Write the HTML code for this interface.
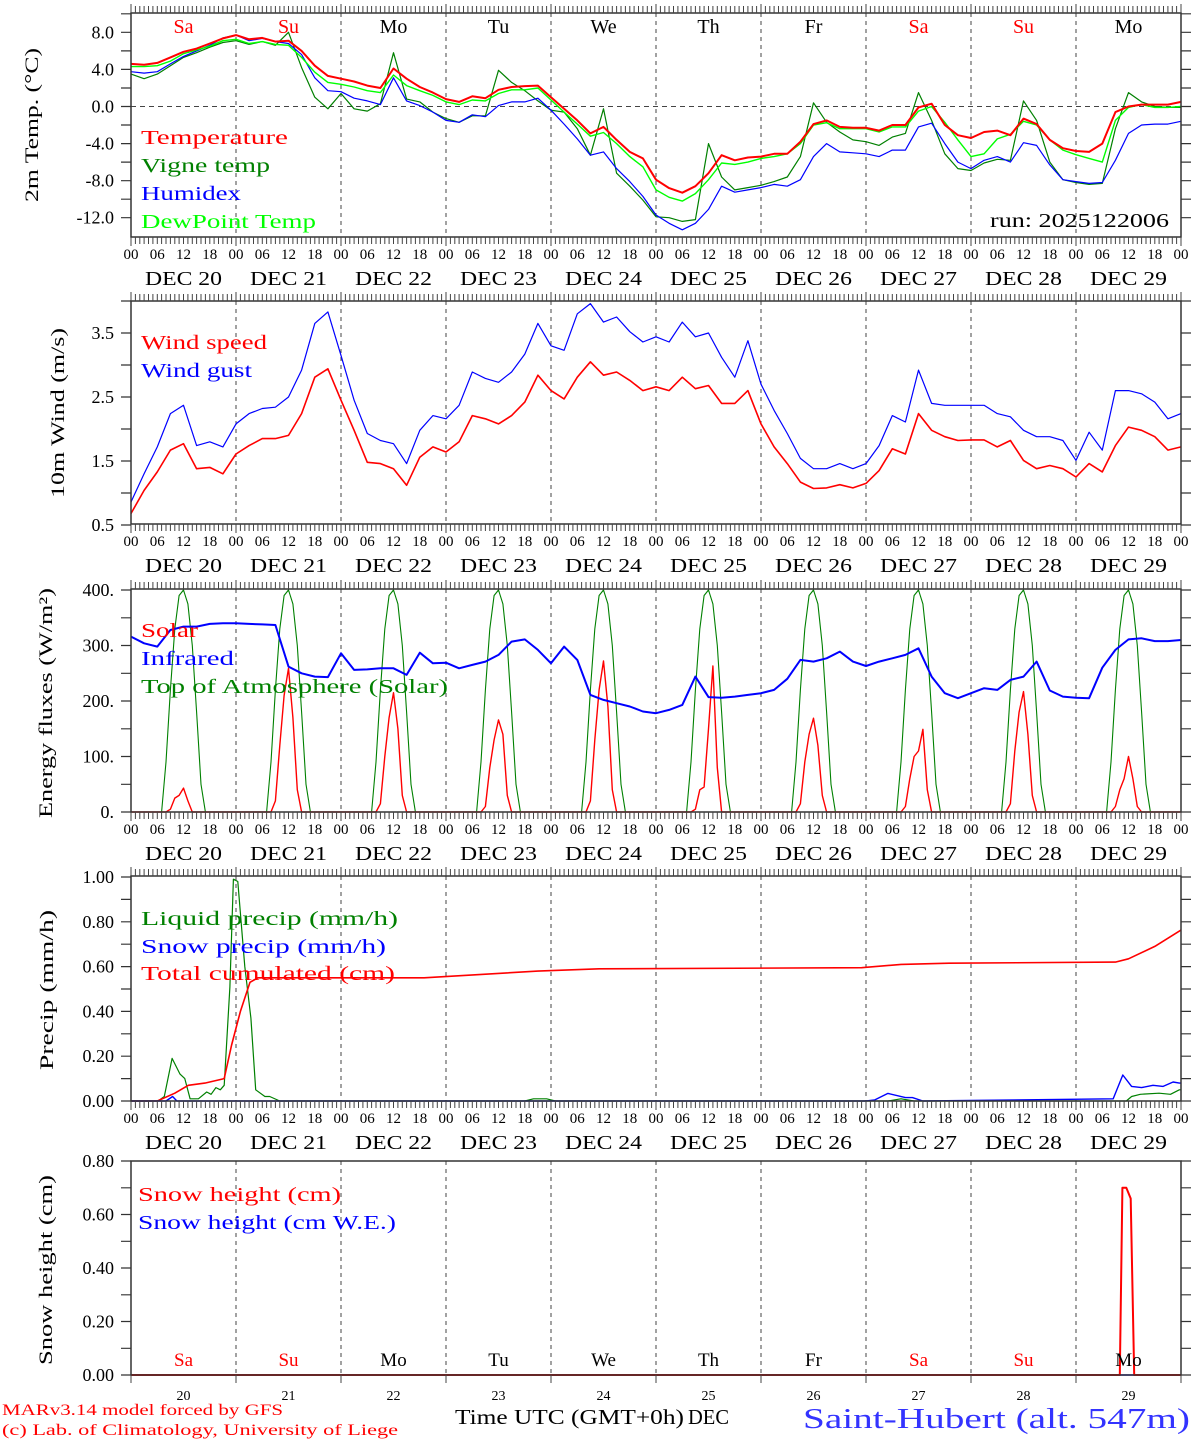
<!DOCTYPE html>
<html><head><meta charset="utf-8"><title>Saint-Hubert MAR forecast</title>
<style>
html,body{margin:0;padding:0;background:#fff;}
svg{display:block;font-family:"Liberation Serif",serif;}
</style></head>
<body>
<svg id="chart" width="1194" height="1440" viewBox="0 0 1194 1440" xmlns="http://www.w3.org/2000/svg">
<rect x="0" y="0" width="1194" height="1440" fill="#fff"/>
<g id="grid"></g>
<g id="series"></g>
<g id="axes"></g>
<g id="labels">
  <text x="0" y="0" transform="translate(38,125) rotate(-90)" text-anchor="middle" font-size="19" textLength="154" lengthAdjust="spacingAndGlyphs">2m Temp. (°C)</text>
  <text x="0" y="0" transform="translate(64,413) rotate(-90)" text-anchor="middle" font-size="19" textLength="170" lengthAdjust="spacingAndGlyphs">10m Wind (m/s)</text>
  <text x="0" y="0" transform="translate(52,703) rotate(-90)" text-anchor="middle" font-size="19" textLength="230" lengthAdjust="spacingAndGlyphs">Energy fluxes (W/m²)</text>
  <text x="0" y="0" transform="translate(53,990) rotate(-90)" text-anchor="middle" font-size="19" textLength="160" lengthAdjust="spacingAndGlyphs">Precip (mm/h)</text>
  <text x="0" y="0" transform="translate(52,1270) rotate(-90)" text-anchor="middle" font-size="19" textLength="190" lengthAdjust="spacingAndGlyphs">Snow height (cm)</text>

  <text x="141" y="144" font-size="20" fill="#ff0000" textLength="147" lengthAdjust="spacingAndGlyphs">Temperature</text>
  <text x="141" y="172" font-size="20" fill="#008000" textLength="129" lengthAdjust="spacingAndGlyphs">Vigne temp</text>
  <text x="141" y="200" font-size="20" fill="#0000ff" textLength="100" lengthAdjust="spacingAndGlyphs">Humidex</text>
  <text x="141" y="228" font-size="20" fill="#00ff00" textLength="175" lengthAdjust="spacingAndGlyphs">DewPoint Temp</text>
  <text x="990" y="227" font-size="20" fill="#000" textLength="179" lengthAdjust="spacingAndGlyphs">run: 2025122006</text>

  <text x="141" y="349" font-size="20" fill="#ff0000" textLength="126" lengthAdjust="spacingAndGlyphs">Wind speed</text>
  <text x="141" y="377" font-size="20" fill="#0000ff" textLength="111" lengthAdjust="spacingAndGlyphs">Wind gust</text>

  <text x="141" y="637" font-size="20" fill="#ff0000" textLength="57" lengthAdjust="spacingAndGlyphs">Solar</text>
  <text x="141" y="665" font-size="20" fill="#0000ff" textLength="93" lengthAdjust="spacingAndGlyphs">Infrared</text>
  <text x="141" y="693" font-size="20" fill="#008000" textLength="307" lengthAdjust="spacingAndGlyphs">Top of Atmosphere (Solar)</text>

  <text x="141" y="925" font-size="20" fill="#008000" textLength="257" lengthAdjust="spacingAndGlyphs">Liquid precip (mm/h)</text>
  <text x="141" y="953" font-size="20" fill="#0000ff" textLength="245" lengthAdjust="spacingAndGlyphs">Snow precip (mm/h)</text>
  <text x="141" y="980" font-size="20" fill="#ff0000" textLength="254" lengthAdjust="spacingAndGlyphs">Total cumulated (cm)</text>

  <text x="138" y="1201" font-size="20" fill="#ff0000" textLength="203" lengthAdjust="spacingAndGlyphs">Snow height (cm)</text>
  <text x="138" y="1229" font-size="20" fill="#0000ff" textLength="258" lengthAdjust="spacingAndGlyphs">Snow height (cm W.E.)</text>

  <text x="2" y="1415" font-size="16" fill="#ff0000" textLength="281" lengthAdjust="spacingAndGlyphs">MARv3.14 model forced by GFS</text>
  <text x="2" y="1435" font-size="16" fill="#ff0000" textLength="396" lengthAdjust="spacingAndGlyphs">(c) Lab. of Climatology, University of Liege</text>
  <text x="455" y="1424" font-size="21" fill="#000" textLength="229" lengthAdjust="spacingAndGlyphs">Time UTC (GMT+0h)</text>
  <text x="688" y="1424" font-size="21" fill="#000" textLength="41" lengthAdjust="spacingAndGlyphs">DEC</text>
  <text x="803" y="1428" font-size="29" fill="#3333ff" textLength="387" lengthAdjust="spacingAndGlyphs">Saint-Hubert (alt. 547m)</text>
</g>
</svg>
<script>
// ---------- DATA (3-hourly from 20 Dec 00 UTC, 81 points) ----------
const temperature = [4.6,4.5,4.7,5.3,5.9,6.25,6.8,7.35,7.7,7.25,7.4,7.0,7.1,6.0,4.4,3.3,3.0,2.7,2.25,2.0,4.1,3.0,2.1,1.5,0.8,0.5,1.1,0.9,1.8,2.1,2.2,2.25,1.0,-0.25,-1.5,-2.9,-2.2,-3.6,-4.9,-5.6,-7.9,
 -8.8,-9.3,-8.6,-7.2,-5.25,-5.8,-5.5,-5.4,-5.1,-5.1,-3.8,-1.9,-1.5,-2.2,-2.3,-2.3,-2.6,-2.0,-2.0,-0.1,0.3,-2.0,-3.1,-3.4,-2.75,-2.6,-3.1,-1.3,-1.9,-3.6,-4.5,-4.8,-4.9,-4.0,-0.6,0.0,0.2,0.2,0.2,0.5];
const dewpoint = [4.3,4.3,4.4,4.9,5.7,6.1,6.5,7.1,7.25,6.8,7.0,6.7,6.6,5.3,3.7,2.6,2.4,2.1,1.7,1.5,3.4,2.25,1.7,1.2,0.5,0.2,0.7,0.6,1.4,1.8,1.8,2.0,0.7,-0.6,-1.9,-3.2,-2.8,-4.0,-5.4,-6.5,-9.0,
 -9.8,-10.2,-9.4,-7.9,-6.1,-6.25,-6.0,-5.6,-5.4,-5.1,-4.0,-2.0,-1.75,-2.4,-2.4,-2.4,-2.75,-2.2,-2.2,-0.5,0.0,-1.7,-3.6,-5.4,-5.1,-3.5,-3.0,-1.6,-2.0,-3.6,-4.7,-5.2,-5.6,-6.0,-1.5,-0.1,0.2,-0.1,-0.1,0.0];
const humidex = [3.75,3.6,3.75,4.6,5.4,6.0,6.6,7.4,7.7,7.1,7.35,7.0,6.8,5.6,3.1,1.7,1.6,0.9,0.6,0.2,3.1,0.6,0.1,-0.6,-1.5,-1.7,-0.9,-1.1,0.1,0.5,0.5,0.9,-0.4,-1.9,-3.5,-5.25,-4.9,-6.7,-8.1,-9.7,-11.7,
 -12.6,-13.3,-12.6,-11.1,-8.6,-9.25,-9.0,-8.75,-8.4,-8.6,-7.9,-5.4,-4.0,-4.9,-5.0,-5.1,-5.4,-4.7,-4.7,-2.2,-1.8,-4.0,-6.0,-6.7,-5.8,-5.4,-6.0,-3.9,-4.2,-6.3,-7.9,-8.1,-8.3,-8.2,-5.8,-2.9,-2.0,-1.9,-1.9,-1.6];
const vigne = [3.5,3.0,3.5,4.4,5.3,5.8,6.4,6.9,7.1,6.7,7.0,6.6,8.0,4.2,1.0,-0.25,1.4,-0.25,-0.5,0.3,5.8,0.8,0.5,-0.6,-1.3,-1.7,-1.0,-1.0,3.9,2.6,1.7,0.6,-0.4,-0.6,-2.4,-5.25,-0.25,-7.2,-8.6,-10.1,-11.9,
 -12.0,-12.4,-12.2,-4.0,-7.6,-9.0,-8.75,-8.5,-8.1,-7.6,-5.4,0.4,-1.7,-2.75,-3.6,-3.8,-4.2,-3.3,-2.9,1.5,-1.5,-5.1,-6.7,-6.9,-6.1,-5.7,-5.8,0.6,-1.5,-6.0,-7.9,-8.2,-8.4,-8.3,-2.4,1.5,0.5,0.0,-0.1,-0.1];
const windSpeed = [0.68,1.04,1.33,1.67,1.77,1.38,1.4,1.3,1.61,1.74,1.85,1.85,1.9,2.24,2.81,2.94,2.45,1.98,1.48,1.46,1.38,1.12,1.56,1.72,1.64,1.8,2.21,2.16,2.08,2.21,2.42,2.84,2.6,2.47,2.81,3.05,2.84,2.89,2.76,2.6,2.66,2.6,2.81,2.63,2.68,2.4,2.4,2.6,2.08,1.72,1.46,1.17,1.07,1.08,1.13,1.08,1.15,1.35,1.69,1.61,2.24,1.98,1.88,1.82,1.83,1.83,1.72,1.82,1.51,1.38,1.43,1.38,1.25,1.46,1.33,1.74,2.03,1.98,1.88,1.67,1.72];
const windGust = [0.86,1.3,1.72,2.24,2.37,1.74,1.8,1.72,2.08,2.24,2.32,2.34,2.5,2.92,3.65,3.83,3.15,2.45,1.93,1.82,1.77,1.46,1.98,2.21,2.16,2.37,2.89,2.79,2.73,2.89,3.17,3.65,3.3,3.23,3.8,3.96,3.67,3.75,3.52,3.36,3.44,3.36,3.67,3.44,3.5,3.12,2.81,3.38,2.7,2.29,1.93,1.54,1.38,1.38,1.46,1.38,1.46,1.74,2.21,2.11,2.92,2.4,2.37,2.37,2.37,2.37,2.24,2.19,1.98,1.88,1.88,1.82,1.51,1.95,1.67,2.6,2.6,2.55,2.42,2.16,2.24];
const infrared = [316,304,298,328,334,334,339,340,340,339,338,337,262,250,244,243,286,256,257,259,259,247,287,268,269,259,265,271,283,307,311,292,268,298,274,211,202,196,190,181,178,184,193,244,207,206,208,211,214,220,240,274,271,277,289,271,263,271,277,283,295,244,214,205,214,223,220,238,244,271,219,208,206,205,260,292,311,313,308,308,310];
// solar: hourly values at hours 8..16 of each day
const solarHours = [8,9,10,11,12,13,14,15,16];
const solarDay = [
 [0,5,25,30,43,20,0,0,0],
 [0,20,120,210,259,170,40,0,0],
 [0,15,100,170,215,150,30,0,0],
 [0,10,80,130,166,140,30,0,0],
 [0,20,130,220,272,190,40,0,0],
 [0,5,40,45,150,263,80,0,0],
 [0,15,90,140,169,120,30,0,0],
 [0,10,60,100,110,149,40,0,0],
 [0,15,110,180,217,140,30,0,0],
 [0,10,40,60,100,60,10,0,0]];
// top of atmosphere solar: hourly values at hours 7..17 (same each day)
const toaHours = [7,8,9,10,11,12,13,14,15,16,17];
const toaValues = [0,90,220,330,390,400,375,300,180,50,0];
// precipitation: [hour, value] pairs
const liquidPrecip = [[0,0],[6.2,0],[7.6,0.02],[9.4,0.19],[11.2,0.12],[12.3,0.1],[13.5,0.01],[15.4,0.01],[17.3,0.04],[18.3,0.03],[19.4,0.06],[20.4,0.05],[21.3,0.07],[22.6,0.51],[23.4,0.99],[24.4,0.98],[26,0.6],[27.4,0.37],[28.5,0.05],[30.6,0.02],[31.7,0.02],[34,0],[90,0],[92,0.01],[95,0.01],[97,0],[173,0],[176,0.01],[179,0],[227.5,0],[228.7,0.02],[230.7,0.03],[235,0.035],[237.6,0.03],[239.6,0.05],[240,0.05]];
const snowPrecip = [[0,0],[8,0],[9.5,0.02],[10.5,0],[168,0],[170,0.005],[173,0.034],[177,0.015],[178.6,0.015],[181,0],[224.5,0.01],[226.7,0.116],[228.7,0.065],[231,0.06],[233.6,0.07],[235.9,0.065],[238.2,0.085],[239.6,0.08],[240,0.08]];
const totalCumulated = [[0,0],[6,0],[10,0.035],[13.1,0.07],[16.9,0.08],[21.3,0.1],[23,0.25],[25,0.4],[27.2,0.53],[29,0.55],[67,0.55],[93,0.58],[107,0.59],[167,0.595],[176,0.61],[187,0.615],[225,0.62],[228,0.635],[234,0.69],[240,0.763]];
const snowHeight = [[0,0],[226,0],[226.6,0.70],[227.5,0.70],[228.5,0.66],[229.3,0],[240,0]];
const snowHeightWE = [[0,0],[240,0]];
// labels
const hourLabels = ['00','06','12','18'];
const dayNums = ['20','21','22','23','24','25','26','27','28','29'];
const dayNames = ['Sa','Su','Mo','Tu','We','Th','Fr','Sa','Su','Mo'];
const tempTicks = ['8.0','4.0','0.0','-4.0','-8.0','-12.0'];
const tempTickVals = [8,4,0,-4,-8,-12];
const windTickVals = [3.5,2.5,1.5,0.5];
const windTicks = ['3.5','2.5','1.5','0.5'];
const fluxTickVals = [400,300,200,100,0];
const fluxTicks = ['400.','300.','200.','100.','0.'];
const precipTickVals = [1,0.8,0.6,0.4,0.2,0];
const precipTicks = ['1.00','0.80','0.60','0.40','0.20','0.00'];
const snowTickVals = [0.8,0.6,0.4,0.2,0];
const snowTicks = ['0.80','0.60','0.40','0.20','0.00'];

// ---------- SCALES ----------
const X0 = 131, X1 = 1181, HOURS = 240;
function xs(h){ return X0 + h*(X1-X0)/HOURS; }
const P1 = {top:13, bottom:237, y:v=>106.5 - v*9.27};
const P2 = {top:301, bottom:524, y:v=>333 - (v-3.5)*64};
const P3 = {top:589, bottom:812, y:v=>812 - v*0.555};
const P4 = {top:876, bottom:1101, y:v=>1101 - v*224};
const P5 = {top:1161, bottom:1375, y:v=>1375 - v*267.5};

const NS = 'http://www.w3.org/2000/svg';
const gGrid = document.getElementById('grid');
const gSeries = document.getElementById('series');
const gAxes = document.getElementById('axes');
const gLabels = document.getElementById('labels');
function mk(tag, attrs, parent){ const e=document.createElementNS(NS,tag); for(const k in attrs) e.setAttribute(k, attrs[k]); parent.appendChild(e); return e; }
function txt(s, x, y, size, anchor, fill, parent){ const t=mk('text',{x:x,y:y,'font-size':size,'text-anchor':anchor,fill:fill},parent); t.textContent=s; return t; }

function drawUniform(values, panel, color, width, name){
  const pts = values.map((v,i)=> xs(i*3).toFixed(1)+','+panel.y(v).toFixed(1)).join(' ');
  const el = mk('polyline',{points:pts,fill:'none',stroke:color,'stroke-width':width,'stroke-linejoin':'round'},gSeries);
  
  
}
function drawPairs(pairs, panel, color, width, name){
  const pts = pairs.map(p=> xs(p[0]).toFixed(1)+','+panel.y(p[1]).toFixed(1)).join(' ');
  const el = mk('polyline',{points:pts,fill:'none',stroke:color,'stroke-width':width,'stroke-linejoin':'round'},gSeries);
  
  
}

function frame(panel, name, hourTicks){
  const r = mk('rect',{x:X0,y:panel.top,width:X1-X0,height:panel.bottom-panel.top,fill:'none',stroke:'#333','stroke-width':1.5},gAxes);
  
  
  for(let d=1; d<10; d++){
    const l = mk('line',{x1:xs(d*24),x2:xs(d*24),y1:panel.top,y2:panel.bottom,stroke:'#444','stroke-width':1,'stroke-dasharray':'4,4'},gGrid);
    
    
  }
  if(hourTicks){
    let d='';
    for(let h=0; h<=HOURS; h++){
      const len = (h%24===0)?9:7;
      const x = xs(h).toFixed(1);
      d += 'M'+x+','+panel.bottom+'v'+len+'M'+x+','+panel.top+'v-'+len;
    }
    const t = mk('path',{d:d,stroke:'#444','stroke-width':1,fill:'none'},gAxes);
    
    
    for(let day=0; day<10; day++){
      for(let k=0;k<4;k++){
        const lab = txt(hourLabels[k], xs(day*24+k*6), panel.bottom+22, 15, 'middle', '#000', gLabels);
        
        
      }
      const dl = txt('DEC '+dayNums[day], xs(day*24+12), panel.bottom+48, 20, 'middle', '#000', gLabels);
      dl.setAttribute('textLength', 77);
      dl.setAttribute('lengthAdjust', 'spacingAndGlyphs');
      
      
    }
    const last = txt('00', xs(240), panel.bottom+22, 15, 'middle', '#000', gLabels);
    
    
  }
}
function yAxis(panel, vals, labels, minorStep, vmin, vmax, name){
  let d='';
  for(let v=vmin; v<=vmax+1e-9; v+=minorStep){
    const y = panel.y(v).toFixed(1);
    d += 'M'+X0+','+y+'h-10M'+X1+','+y+'h10';
  }
  const t = mk('path',{d:d,stroke:'#333','stroke-width':1.2,fill:'none'},gAxes);
  
  
  vals.forEach((v,i)=>{
    const lab = txt(labels[i], 114, panel.y(v)+6, 18, 'end', '#000', gLabels);
    
    
  });
}

// ---------- PANEL 1: temperature ----------
frame(P1,'temp-panel',true);
yAxis(P1, tempTickVals, tempTicks, 2, -12, 10, 'temp');
const zl = mk('line',{x1:X0,x2:X1,y1:P1.y(0),y2:P1.y(0),stroke:'#444','stroke-width':1,'stroke-dasharray':'5,4'},gGrid);


dayNames.forEach((n,i)=>{
  const c = (n==='Sa'||n==='Su')?'#ff0000':'#000';
  const t = txt(n, xs(i*24+12), 33, 20, 'middle', c, gLabels);
  
  
});
drawUniform(vigne, P1, '#008000', 1.2, 'vigne-temp-line');
drawUniform(humidex, P1, '#0000ff', 1.2, 'humidex-line');
drawUniform(dewpoint, P1, '#00ff00', 1.4, 'dewpoint-line');
drawUniform(temperature, P1, '#ff0000', 2, 'temperature-line');

// ---------- PANEL 2: wind ----------
frame(P2,'wind-panel',true);
yAxis(P2, windTickVals, windTicks, 0.5, 0.5, 4.0, 'wind');
drawUniform(windGust, P2, '#0000ff', 1.2, 'wind-gust-line');
drawUniform(windSpeed, P2, '#ff0000', 1.6, 'wind-speed-line');

// ---------- PANEL 3: energy fluxes ----------
frame(P3,'flux-panel',true);
yAxis(P3, fluxTickVals, fluxTicks, 50, 0, 400, 'flux');
const toaPts = [[0,0]];
for(let d=0; d<10; d++){ toaHours.forEach((h,k)=> toaPts.push([d*24+h, toaValues[k]])); }
toaPts.push([240,0]);
drawPairs(toaPts, P3, '#008000', 1.1, 'toa-solar-line');
const solarPts = [[0,0]];
for(let d=0; d<10; d++){ solarHours.forEach((h,k)=> solarPts.push([d*24+h, solarDay[d][k]])); }
solarPts.push([240,0]);
drawPairs(solarPts, P3, '#ff0000', 1.4, 'solar-line');
drawUniform(infrared, P3, '#0000ff', 2, 'infrared-line');

// ---------- PANEL 4: precipitation ----------
frame(P4,'precip-panel',true);
yAxis(P4, precipTickVals, precipTicks, 0.1, 0, 1.0, 'precip');
drawPairs(liquidPrecip, P4, '#008000', 1.2, 'liquid-precip-line');
drawPairs(totalCumulated, P4, '#ff0000', 1.6, 'total-cumulated-line');
drawPairs(snowPrecip, P4, '#0000ff', 1.4, 'snow-precip-line');

// ---------- PANEL 5: snow height ----------
frame(P5,'snow-panel',false);
yAxis(P5, snowTickVals, snowTicks, 0.1, 0, 0.8, 'snow');
let sd='';
for(let d=0; d<=10; d++){ sd += 'M'+xs(d*24).toFixed(1)+','+P5.bottom+'v8'; }
const st = mk('path',{d:sd,stroke:'#444','stroke-width':1,fill:'none'},gAxes);


dayNames.forEach((n,i)=>{
  const c = (n==='Sa'||n==='Su')?'#ff0000':'#000';
  const t = txt(n, xs(i*24+12), 1366, 19, 'middle', c, gLabels);
  
  
  const num = txt(dayNums[i], xs(i*24+12), 1400, 14, 'middle', '#000', gLabels);
  
  
});
drawPairs(snowHeightWE, P5, '#0000ff', 1.5, 'snow-height-we-line');
drawPairs(snowHeight, P5, '#ff0000', 2, 'snow-height-line');
</script>
</body></html>
